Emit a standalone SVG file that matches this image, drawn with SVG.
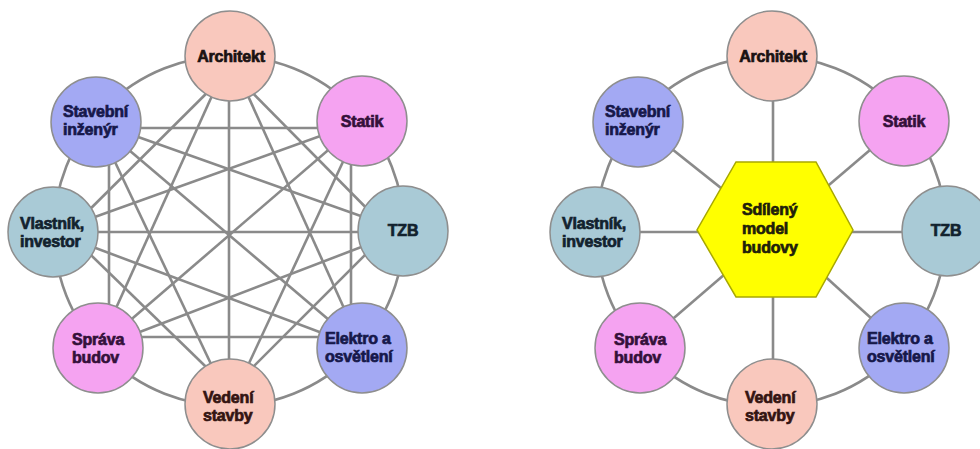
<svg xmlns="http://www.w3.org/2000/svg" width="980" height="449" viewBox="0 0 980 449">
  <style>
    .bg { fill: #ffffff; }
    .ring { fill: none; stroke: #8a8a8a; stroke-width: 2.6; }
    .link { stroke: #8a8a8a; stroke-width: 2.6; fill: none; }
    .node { stroke: #8e8e8e; stroke-width: 1.5; }
    .pink { fill: #f9c8bd; }
    .blue { fill: #a3a9f3; }
    .violet { fill: #f5a3f1; }
    .teal { fill: #a9cad6; }
    .hex { fill: #ffff00; stroke: #a8a800; stroke-width: 1.5; }
    text { font-family: "Liberation Sans", Arial, sans-serif; font-weight: bold; font-size: 16px; stroke-width: 0.7; letter-spacing: -0.2px; }
    .t-dark { fill: #1a1212; stroke: #1a1212; }
    .t-navy { fill: #16184a; stroke: #16184a; }
    .t-plum { fill: #34103a; stroke: #34103a; }
    .t-slate { fill: #12222e; stroke: #12222e; }
    .t-brown { fill: #341412; stroke: #341412; }
    .t-hex { fill: #20200a; stroke: #20200a; }
    .mid { text-anchor: middle; }
  </style>
  <rect class="bg" x="0" y="0" width="980" height="449"/>

  <!-- Left: every participant linked to every other -->
  <g id="connectors-left">
    <circle class="ring" cx="229" cy="231" r="175"/>
    <!-- skip-one chords -->
    <line class="link" x1="96" y1="128" x2="362" y2="128"/>
    <line class="link" x1="351" y1="121" x2="351" y2="348"/>
    <line class="link" x1="98" y1="337" x2="362" y2="337"/>
    <line class="link" x1="109" y1="122" x2="109" y2="348"/>
    <line class="link" x1="223" y1="63" x2="396" y2="238"/>
    <line class="link" x1="396" y1="224" x2="223" y2="397"/>
    <line class="link" x1="237" y1="397" x2="60" y2="225"/>
    <line class="link" x1="60" y1="239" x2="237" y2="63"/>
    <!-- skip-two chords -->
    <line class="link" x1="230" y1="56" x2="362" y2="348"/>
    <line class="link" x1="362" y1="121" x2="230" y2="404"/>
    <line class="link" x1="403" y1="231" x2="98" y2="348"/>
    <line class="link" x1="362" y1="348" x2="53" y2="232"/>
    <line class="link" x1="230" y1="404" x2="96" y2="122"/>
    <line class="link" x1="98" y1="348" x2="230" y2="56"/>
    <line class="link" x1="53" y1="232" x2="362" y2="121"/>
    <line class="link" x1="96" y1="122" x2="403" y2="231"/>
    <!-- diameters -->
    <line class="link" x1="229" y1="56" x2="229" y2="404"/>
    <line class="link" x1="362" y1="121" x2="98" y2="348"/>
    <line class="link" x1="403" y1="232" x2="53" y2="232"/>
    <line class="link" x1="362" y1="348" x2="96" y2="122"/>
  </g>

  <!-- Right: everyone linked through the shared model -->
  <g id="connectors-right">
    <circle class="ring" cx="771" cy="231" r="175"/>
    <line class="link" x1="773" y1="56" x2="773" y2="404"/>
    <line class="link" x1="594" y1="232" x2="947" y2="232"/>
    <line class="link" x1="638" y1="122" x2="775" y2="231"/>
    <line class="link" x1="904" y1="121" x2="775" y2="231"/>
    <line class="link" x1="639" y1="348" x2="775" y2="231"/>
    <line class="link" x1="904" y1="348" x2="775" y2="231"/>
  </g>

  <g id="model">
    <polygon class="hex" points="736,162 816,162 853,230 816,297 736,297 697,230"/>
    <text class="t-hex" x="742" y="215">Sdílený</text>
    <text class="t-hex" x="742" y="234">model</text>
    <text class="t-hex" x="742" y="253">budovy</text>
  </g>

  <!-- Left nodes -->
  <g id="architekt-l">
    <circle class="node pink" cx="230" cy="56" r="45"/>
    <text class="t-dark mid" x="231" y="62">Architekt</text>
  </g>
  <g id="statik-l">
    <circle class="node violet" cx="362" cy="121" r="45"/>
    <text class="t-plum mid" x="362" y="127">Statik</text>
  </g>
  <g id="tzb-l">
    <circle class="node teal" cx="403" cy="231" r="45"/>
    <text class="t-slate mid" x="403" y="236">TZB</text>
  </g>
  <g id="elektro-l">
    <circle class="node blue" cx="362" cy="348" r="45"/>
    <text class="t-navy" x="325" y="344">Elektro a</text>
    <text class="t-navy" x="325" y="362">osvětlení</text>
  </g>
  <g id="vedeni-l">
    <circle class="node pink" cx="230" cy="404" r="45"/>
    <text class="t-brown" x="203" y="403">Vedení</text>
    <text class="t-brown" x="203" y="421">stavby</text>
  </g>
  <g id="sprava-l">
    <circle class="node violet" cx="98" cy="348" r="45"/>
    <text class="t-plum" x="72" y="345">Správa</text>
    <text class="t-plum" x="72" y="363">budov</text>
  </g>
  <g id="vlastnik-l">
    <circle class="node teal" cx="53" cy="232" r="45"/>
    <text class="t-slate" x="20" y="229">Vlastník,</text>
    <text class="t-slate" x="20" y="247">investor</text>
  </g>
  <g id="stavebni-l">
    <circle class="node blue" cx="96" cy="122" r="45"/>
    <text class="t-navy" x="63" y="117">Stavební</text>
    <text class="t-navy" x="63" y="135">inženýr</text>
  </g>

  <!-- Right nodes -->
  <g id="architekt-r">
    <circle class="node pink" cx="772" cy="56" r="45"/>
    <text class="t-dark mid" x="773" y="62">Architekt</text>
  </g>
  <g id="statik-r">
    <circle class="node violet" cx="904" cy="121" r="45"/>
    <text class="t-plum mid" x="904" y="127">Statik</text>
  </g>
  <g id="tzb-r">
    <circle class="node teal" cx="947" cy="231" r="45"/>
    <text class="t-slate mid" x="946" y="236">TZB</text>
  </g>
  <g id="elektro-r">
    <circle class="node blue" cx="904" cy="348" r="45"/>
    <text class="t-navy" x="867" y="344">Elektro a</text>
    <text class="t-navy" x="867" y="362">osvětlení</text>
  </g>
  <g id="vedeni-r">
    <circle class="node pink" cx="772" cy="404" r="45"/>
    <text class="t-brown" x="745" y="403">Vedení</text>
    <text class="t-brown" x="745" y="421">stavby</text>
  </g>
  <g id="sprava-r">
    <circle class="node violet" cx="640" cy="348" r="45"/>
    <text class="t-plum" x="614" y="345">Správa</text>
    <text class="t-plum" x="614" y="363">budov</text>
  </g>
  <g id="vlastnik-r">
    <circle class="node teal" cx="595" cy="232" r="45"/>
    <text class="t-slate" x="562" y="229">Vlastník,</text>
    <text class="t-slate" x="562" y="247">investor</text>
  </g>
  <g id="stavebni-r">
    <circle class="node blue" cx="638" cy="122" r="45"/>
    <text class="t-navy" x="605" y="117">Stavební</text>
    <text class="t-navy" x="605" y="135">inženýr</text>
  </g>
</svg>
